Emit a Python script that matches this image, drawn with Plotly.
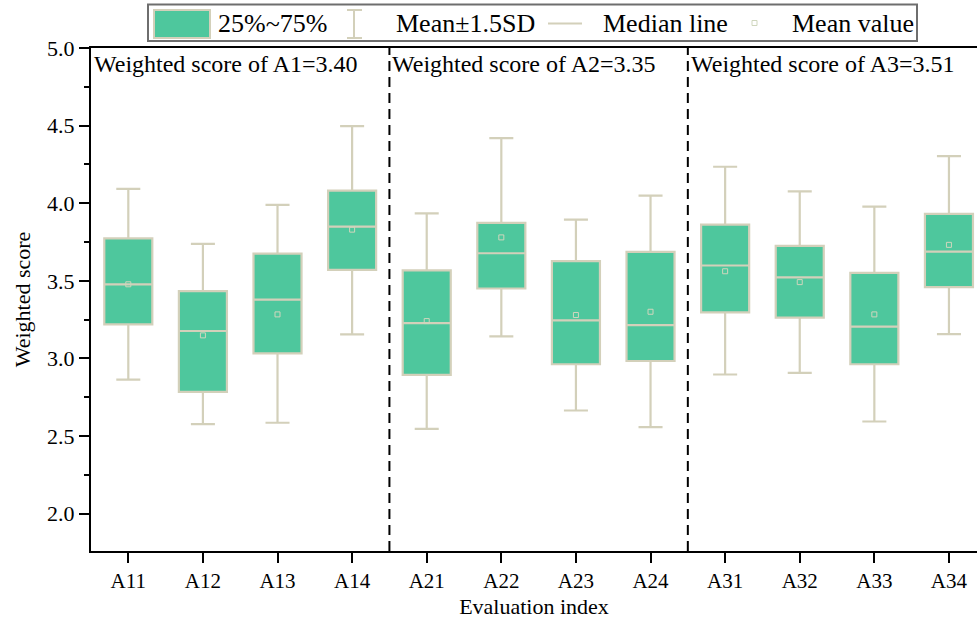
import plotly.graph_objects as go

# ---------------- data ----------------
categories = ["A11", "A12", "A13", "A14", "A21", "A22", "A23", "A24",
              "A31", "A32", "A33", "A34"]
q1 = [3.22, 2.785, 3.033, 3.571, 2.894, 3.451, 2.963, 2.984, 3.297, 3.263, 2.963, 3.46]
median = [3.477, 3.177, 3.379, 3.85, 3.228, 3.678, 3.245, 3.215, 3.599, 3.522, 3.205, 3.689]
q3 = [3.774, 3.434, 3.676, 4.081, 3.567, 3.873, 3.627, 3.687, 3.862, 3.726, 3.552, 3.931]
lower = [2.864, 2.577, 2.586, 3.156, 2.547, 3.143, 2.665, 2.558, 2.897, 2.907, 2.594, 3.157]
upper = [4.092, 3.738, 3.989, 4.497, 3.935, 4.42, 3.895, 4.049, 4.235, 4.077, 3.978, 4.304]
mean = [3.478, 3.149, 3.284, 3.83, 3.241, 3.78, 3.28, 3.301, 3.562, 3.492, 3.284, 3.732]

groups = ["A1", "A2", "A3"]
group_sizes = [4, 4, 4]
group_scores = [3.40, 3.35, 3.51]

legend_labels = ["25%~75%", "Mean\u00b11.5SD", "Median line", "Mean value"]

# ---------------- style ----------------
FONT = "Times New Roman, Liberation Serif, DejaVu Serif, serif"
FILL = "#4ec79d"
EDGE = "#d3d0ba"
MEANC = "#cfd6bd"
W, H = 977, 625
ML, MR, MT, MB = 91, 0, 48, 74

pos = list(range(1, len(categories) + 1))

fig = go.Figure()
fig.add_trace(go.Box(
    x=pos, q1=q1, median=median, q3=q3,
    lowerfence=lower, upperfence=upper,
    fillcolor=FILL, line=dict(color=EDGE, width=2.2),
    width=0.644, whiskerwidth=0.5, boxpoints=False,
    showlegend=False, hoverinfo="skip",
))
fig.add_trace(go.Scatter(
    x=pos, y=mean, mode="markers",
    marker=dict(symbol="square-open", size=5, color=MEANC,
                line=dict(width=1, color=MEANC)),
    showlegend=False, hoverinfo="skip",
))

# pixel -> paper helpers for layout furniture
pw = W - ML - MR
ph = H - MT - MB


def px_x(q):
    return (q - ML) / pw


def px_y(p):
    return (H - MB - p) / ph


shapes = []
annotations = []

# group separators and group labels
start = 0.5
for i, (g, n, s) in enumerate(zip(groups, group_sizes, group_scores)):
    annotations.append(dict(
        x=start, y=px_y(64), xref="x", yref="paper",
        text=f"Weighted score of {g}={s:.2f}", showarrow=False,
        xanchor="left", yanchor="middle", xshift=1,
        font=dict(family=FONT, size=24, color="black")))
    end = start + n
    if i < len(groups) - 1:
        shapes.append(dict(type="line", xref="x", yref="paper",
                           x0=end, x1=end, y0=0, y1=1,
                           line=dict(color="black", width=2, dash="10px,6px")))
    start = end

# custom legend
shapes.append(dict(type="rect", xref="paper", yref="paper",
                   x0=px_x(148), x1=px_x(917), y0=px_y(41), y1=px_y(4.5),
                   line=dict(color="#6e6e6e", width=2), fillcolor="white"))
shapes.append(dict(type="rect", xref="paper", yref="paper",
                   x0=px_x(154), x1=px_x(210), y0=px_y(38), y1=px_y(10),
                   line=dict(color=EDGE, width=2), fillcolor=FILL))
# I-beam
for (xa, xb, ya, yb) in [(354, 354, 10, 38), (347, 362, 10, 10), (347, 362, 38, 38)]:
    shapes.append(dict(type="line", xref="paper", yref="paper",
                       x0=px_x(xa), x1=px_x(xb), y0=px_y(ya), y1=px_y(yb),
                       line=dict(color=EDGE, width=2)))
# median line symbol
shapes.append(dict(type="line", xref="paper", yref="paper",
                   x0=px_x(548), x1=px_x(582), y0=px_y(23.5), y1=px_y(23.5),
                   line=dict(color=EDGE, width=2)))
# mean square symbol
shapes.append(dict(type="rect", xref="paper", yref="paper",
                   x0=px_x(752), x1=px_x(757), y0=px_y(25.5), y1=px_y(20.5),
                   line=dict(color=MEANC, width=1), fillcolor="rgba(0,0,0,0)"))

for lab, xq in zip(legend_labels, [216, 394, 601, 790]):
    annotations.append(dict(
        x=px_x(xq), y=px_y(23.5), xref="paper", yref="paper",
        text=lab, showarrow=False, xanchor="left", yanchor="middle",
        font=dict(family=FONT, size=26, color="black")))

fig.update_layout(
    width=W, height=H,
    margin=dict(l=ML, r=MR, t=MT, b=MB, pad=0),
    paper_bgcolor="white", plot_bgcolor="white",
    font=dict(family=FONT, color="black"),
    shapes=shapes, annotations=annotations,
    showlegend=False,
)
fig.update_xaxes(
    range=[0.5, 12.376], tickvals=pos, ticktext=categories,
    showgrid=False, zeroline=False,
    showline=True, linecolor="black", linewidth=2, mirror=True,
    ticks="outside", ticklen=10, tickwidth=2, tickcolor="black",
    tickfont=dict(family=FONT, size=21),
    title=dict(text="Evaluation index", font=dict(family=FONT, size=22), standoff=6),
)
fig.update_yaxes(
    range=[1.76, 5.0], tick0=2.0, dtick=0.5, tickformat=".1f",
    showgrid=False, zeroline=False,
    showline=True, linecolor="black", linewidth=2,
    ticks="outside", ticklen=10, tickwidth=2, tickcolor="black",
    minor=dict(tick0=2.0, dtick=0.25, ticks="outside", ticklen=5,
               tickwidth=2, tickcolor="black", showgrid=False),
    tickfont=dict(family=FONT, size=22),
    title=dict(text="Weighted score", font=dict(family=FONT, size=22), standoff=10),
)

fig.write_html(
    "out.html",
    config={"displayModeBar": False},
    post_script="document.body.style.margin='0px';document.body.style.overflow='hidden';",
)
